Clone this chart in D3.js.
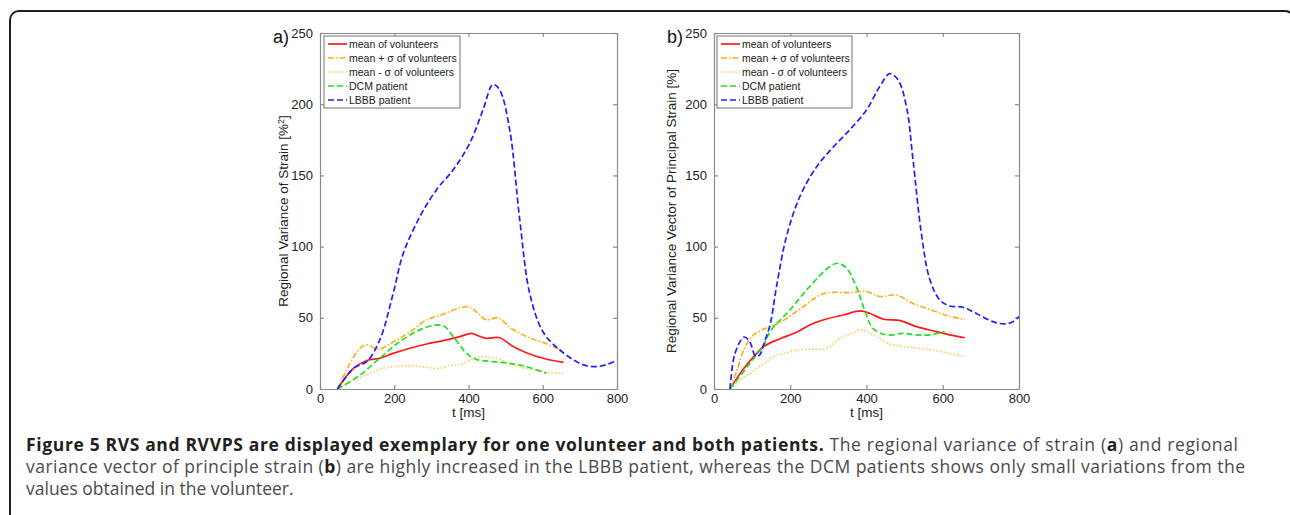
<!DOCTYPE html>
<html>
<head>
<meta charset="utf-8">
<script src="https://cdn.jsdelivr.net/npm/d3@7"></script>
<style>
  body { margin: 0; background: #fff; }
  svg { display: block; }
</style>
</head>
<body>
<svg width="1290" height="515"></svg>
<script>
// ---- data ----
const xTicks = [0, 200, 400, 600, 800];
const yTicks = [0, 50, 100, 150, 200, 250];

const seriesNames = ["mean of volunteers", "mean + \u03c3 of volunteers", "mean - \u03c3 of volunteers", "DCM patient", "LBBB patient"];

// panel a: regional variance of strain
const aMean = [[47,0],[90,14.5],[126,20],[161,21.6],[197,25],[242,28.6],[287,31.6],[332,34],[377,36.8],[408,39],[430,37],[448,35.6],[484,36],[520,29.8],[556,25.5],[601,21.6],[656,18.7]];
const aPlus = [[47,0],[81,18],[108,28.6],[126,31],[157,28],[197,33],[242,40],[287,48.5],[332,52.5],[377,57],[404,57.4],[430,52],[448,48.5],[480,50],[511,43.3],[556,36.8],[601,32.6],[656,26.7]];
const aMinus = [[47,0],[90,6.3],[126,9.8],[161,14],[197,15.7],[242,16.4],[287,15.2],[323,14.5],[350,16.6],[377,16.9],[404,20.4],[435,22.7],[475,21.6],[520,16.9],[574,13.4],[619,11.5],[656,11]];
const aDcm = [[47,0],[108,9.8],[161,21.6],[215,33.3],[269,41.5],[314,45],[336,43.8],[359,36.8],[395,25],[421,20.8],[466,19.2],[511,18],[556,15.7],[610,11]];
const aLbbb = [[47,0],[90,14.5],[126,19.2],[161,34.4],[197,67],[224,95],[269,121],[314,140],[359,154],[404,173],[439,196],[466,214],[484,210],[511,182],[538,119],[565,67],[601,40],[646,27.4],[700,18],[735,15.7],[771,17],[800,20.4]];

// panel b: regional variance vector of principal strain
const bMean = [[42,0],[77,14],[112,25],[131,30],[175,35.5],[218,40],[251,45],[288,48.6],[339,52],[385,54.8],[409,53],[445,49],[489,48],[531,43.8],[583,40.3],[618,38],[658,36]];
const bPlus = [[42,0],[60,13],[79,28],[100,37],[126,41.5],[175,47],[230,57],[288,67],[356,67.7],[400,68.4],[435,65],[479,66],[522,60],[575,55],[618,51],[658,49]];
const bMinus = [[42,0],[60,4],[77,8],[100,12],[129,17.5],[157,22.7],[190,25.5],[218,27.4],[260,28],[295,28.5],[332,35.8],[360,39],[386,41.5],[417,38],[461,31.6],[514,29.3],[575,27.4],[618,25],[658,22.7]];
const bDcm = [[42,0],[94,18],[131,31],[147,40.3],[199,55.5],[251,72],[304,86],[325,88.3],[347,85],[373,72],[395,55.5],[417,42.6],[452,38],[496,39],[531,38],[566,38],[605,40.3]];
const bLbbb = [[42,0],[55,25],[79,36.5],[94,33],[109,23],[120,24],[131,32],[147,45],[164,72],[190,107],[225,135],[269,156],[313,170],[356,182],[400,196],[435,212.5],[461,221.5],[483,217],[505,198],[522,161],[544,109],[566,77],[592,62.6],[618,58.3],[653,57.4],[688,53],[732,47.3],[762,45.7],[784,47.3],[800,51]];

const captionBold = "Figure 5 RVS and RVVPS are displayed exemplary for one volunteer and both patients.";

// ---- styles ----
const styles = [
  {color: "#ff1a1a", dash: null, w: 1.7},
  {color: "#ffac14", dash: "6,2,1.5,2", w: 1.6},
  {color: "#ffcf6a", dash: "1.8,1.8", w: 1.6},
  {color: "#1fe01f", dash: "6,3", w: 1.7},
  {color: "#1f1fff", dash: "6,3", w: 1.7}
];

const panels = [
  {label: "a)", left: 320, right: 617, legendX: 324, legendW: 136,
   yTitle: "Regional Variance of Strain [%", sup: "2", yTitleX: 288,
   series: [aMean, aPlus, aMinus, aDcm, aLbbb]},
  {label: "b)", left: 714, right: 1019, legendX: 717, legendW: 135,
   yTitle: "Regional Variance Vector of Principal Strain [%]", sup: null, yTitleX: 676,
   series: [bMean, bPlus, bMinus, bDcm, bLbbb]}
];

const plotTop = 33, plotBottom = 389;
const axisFont = "'Liberation Sans', Arial, sans-serif";
const svg = d3.select("svg");

// rounded frame
svg.append("rect")
  .attr("x", 10).attr("y", 11)
  .attr("width", 1284).attr("height", 530)
  .attr("rx", 9)
  .attr("fill", "none")
  .attr("stroke", "#231f20")
  .attr("stroke-width", 2);

panels.forEach((p, pi) => {
  const x = d3.scaleLinear().domain([0, 800]).range([p.left, p.right]);
  const y = d3.scaleLinear().domain([0, 250]).range([plotBottom, plotTop]);
  const g = svg.append("g");

  g.append("clipPath").attr("id", "clip" + pi)
    .append("rect")
    .attr("x", p.left).attr("y", plotTop)
    .attr("width", p.right - p.left).attr("height", plotBottom - plotTop);

  // axes with inward ticks on all four sides
  const axB = g.append("g").attr("transform", `translate(0,${plotBottom})`)
    .call(d3.axisBottom(x).tickValues(xTicks).tickSizeInner(-4).tickSizeOuter(0).tickPadding(6));
  const axT = g.append("g").attr("transform", `translate(0,${plotTop})`)
    .call(d3.axisTop(x).tickValues(xTicks).tickSizeInner(-4).tickSizeOuter(0).tickFormat(""));
  const axL = g.append("g").attr("transform", `translate(${p.left},0)`)
    .call(d3.axisLeft(y).tickValues(yTicks).tickSizeInner(-4).tickSizeOuter(0).tickPadding(7));
  const axR = g.append("g").attr("transform", `translate(${p.right},0)`)
    .call(d3.axisRight(y).tickValues(yTicks).tickSizeInner(-4).tickSizeOuter(0).tickFormat(""));

  [axB, axT, axL, axR].forEach(a => {
    a.attr("font-size", 13).attr("font-family", axisFont);
    a.select(".domain").attr("stroke", "#8a8a8a").attr("stroke-width", 1.2);
    a.selectAll(".tick line").attr("stroke", "#8a8a8a").attr("stroke-width", 1.2);
    a.selectAll("text").attr("fill", "#222");
  });
  axB.selectAll(".tick text").attr("dy", "0.6em");

  // series lines
  const line = d3.line()
    .x(d => x(d[0])).y(d => y(d[1]))
    .curve(d3.curveCatmullRom.alpha(0.5));
  p.series.forEach((s, i) => {
    g.append("path")
      .datum(s)
      .attr("clip-path", `url(#clip${pi})`)
      .attr("d", line)
      .attr("fill", "none")
      .attr("stroke", styles[i].color)
      .attr("stroke-width", styles[i].w)
      .attr("stroke-dasharray", styles[i].dash);
  });

  // legend
  const lg = g.append("g");
  lg.append("rect")
    .attr("x", p.legendX).attr("y", 36)
    .attr("width", p.legendW).attr("height", 72)
    .attr("fill", "#fff").attr("stroke", "#8a8a8a").attr("stroke-width", 1.2);
  seriesNames.forEach((name, i) => {
    const ly = 44 + i * 14;
    lg.append("line")
      .attr("x1", p.legendX + 4).attr("x2", p.legendX + 23)
      .attr("y1", ly).attr("y2", ly)
      .attr("stroke", styles[i].color)
      .attr("stroke-width", styles[i].w)
      .attr("stroke-dasharray", styles[i].dash);
    lg.append("text")
      .attr("x", p.legendX + 25).attr("y", ly + 4)
      .attr("font-family", axisFont).attr("font-size", "10.5px").attr("fill", "#222")
      .text(name);
  });

  // panel label
  g.append("text")
    .attr("x", p.left - 47).attr("y", 43)
    .attr("font-family", axisFont).attr("font-size", "18px").attr("fill", "#111")
    .text(p.label);

  // x title
  g.append("text")
    .attr("x", (p.left + p.right) / 2).attr("y", 417)
    .attr("text-anchor", "middle")
    .attr("font-family", axisFont).attr("font-size", "13.5px").attr("fill", "#222")
    .text("t [ms]");

  // y title
  const yt = g.append("text")
    .attr("transform", `translate(${p.yTitleX},${(plotTop + plotBottom) / 2}) rotate(-90)`)
    .attr("text-anchor", "middle")
    .attr("font-family", axisFont).attr("font-size", "13.5px").attr("fill", "#222");
  yt.append("tspan").text(p.yTitle);
  if (p.sup) {
    yt.append("tspan").attr("font-size", "9px").attr("dy", "-0.5em").text(p.sup);
    yt.append("tspan").attr("dy", "0.35em").text("]");
  }
});

// caption
const capFont = "'Open Sans', 'Noto Sans', sans-serif";
const cap1 = svg.append("text")
  .attr("x", 26).attr("y", 451)
  .attr("font-family", capFont).attr("font-size", "17.5px")
  .attr("textLength", 1212).attr("lengthAdjust", "spacing");
cap1.append("tspan").attr("font-weight", "bold").attr("fill", "#231f20").text(captionBold);
cap1.append("tspan").attr("fill", "#4a4a4a").text(" The regional variance of strain (");
cap1.append("tspan").attr("font-weight", "bold").attr("fill", "#231f20").text("a");
cap1.append("tspan").attr("fill", "#4a4a4a").text(") and regional");

const cap2 = svg.append("text")
  .attr("x", 26).attr("y", 473)
  .attr("font-family", capFont).attr("font-size", "17.5px").attr("fill", "#4a4a4a")
  .attr("textLength", 1219).attr("lengthAdjust", "spacing");
cap2.append("tspan").text("variance vector of principle strain (");
cap2.append("tspan").attr("font-weight", "bold").attr("fill", "#231f20").text("b");
cap2.append("tspan").text(") are highly increased in the LBBB patient, whereas the DCM patients shows only small variations from the");

svg.append("text")
  .attr("x", 26).attr("y", 495)
  .attr("font-family", capFont).attr("font-size", "17.5px").attr("fill", "#4a4a4a")
  .text("values obtained in the volunteer.");
</script>
</body>
</html>
